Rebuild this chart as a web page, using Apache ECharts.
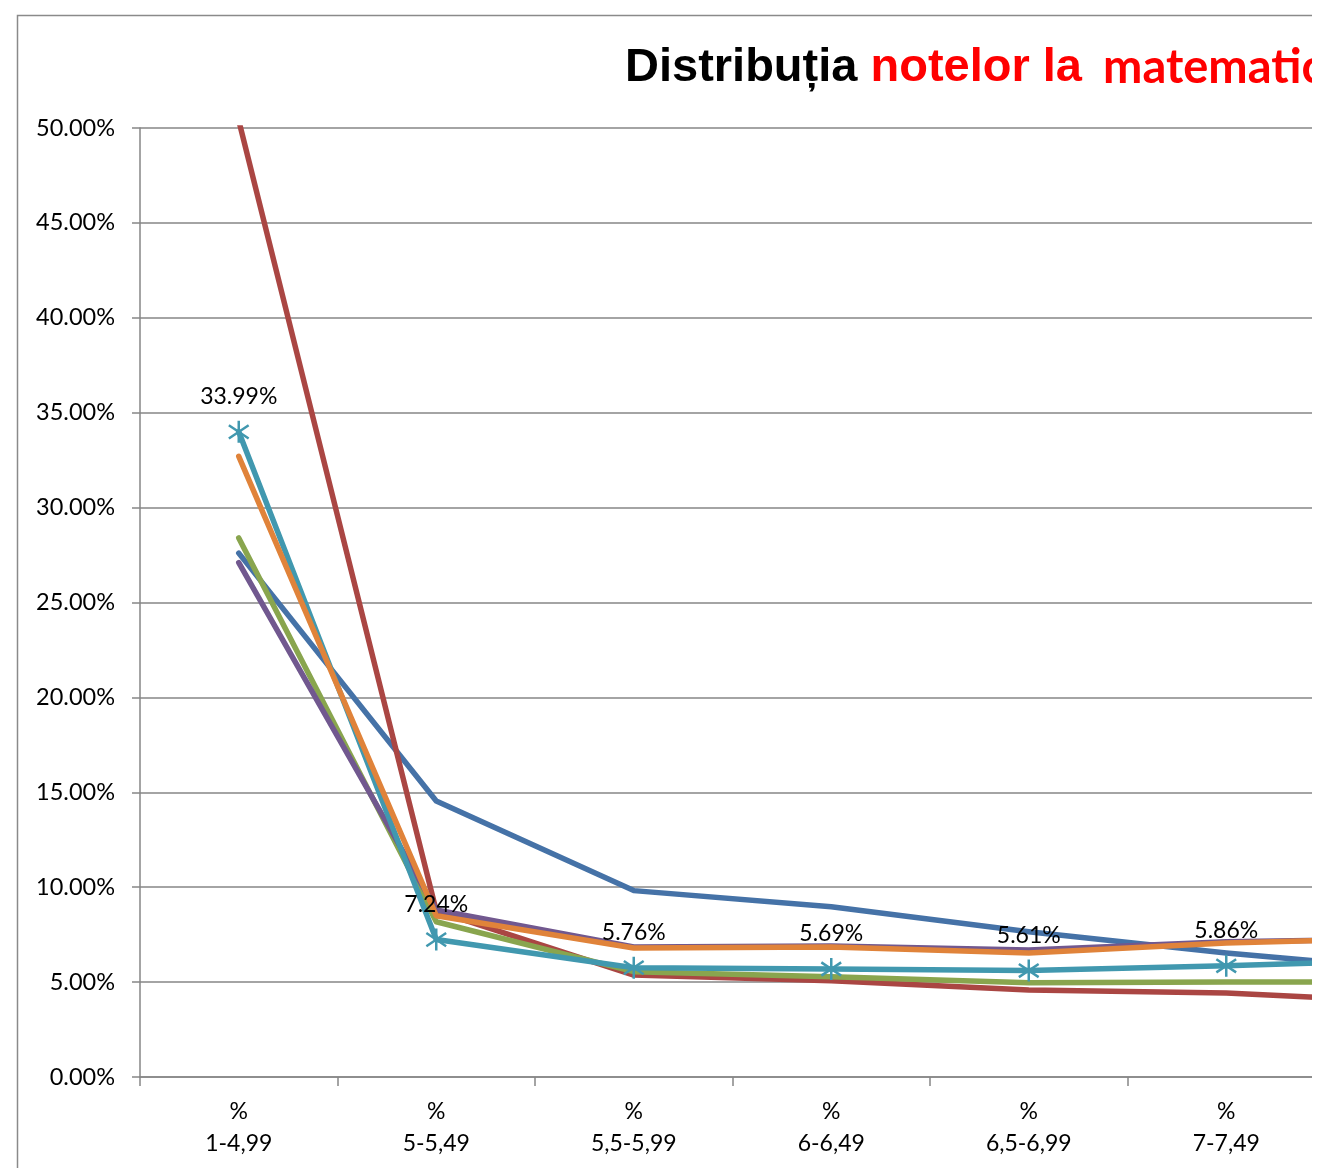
<!DOCTYPE html>
<html>
<head>
<meta charset="utf-8">
<script src="https://cdn.jsdelivr.net/npm/echarts@6/dist/echarts.min.js"></script>
<style>
  html, body { margin: 0; padding: 0; background: #fff; overflow: hidden; }
  #wrap { width: 1312px; height: 1168px; overflow: hidden; position: relative; background:#fff; }
  #chart { width: 1600px; height: 1168px; position: absolute; left: 0; top: 0; }
</style>
</head>
<body>
<div id="wrap"><div id="chart"></div></div>
<script>
// Categories (the 7th lies beyond the visible crop)
const categories = ['%\n1-4,99', '%\n5-5,49', '%\n5,5-5,99', '%\n6-6,49', '%\n6,5-6,99', '%\n7-7,49', '%\n7,5-7,99'];

// Series values (percent)
const blueValues   = [27.6, 14.54, 9.82, 8.97, 7.65, 6.53, 5.61];
const redValues    = [50.4, 8.75, 5.37, 5.07, 4.58, 4.43, 3.92];
const greenValues  = [28.4, 8.18, 5.55, 5.28, 4.97, 5.0, 5.0];
const purpleValues = [27.1, 8.8, 6.85, 6.9, 6.69, 7.13, 7.29];
const cyanValues   = [33.99, 7.24, 5.76, 5.69, 5.61, 5.86, 6.18];
const orangeValues = [32.7, 8.5, 6.8, 6.85, 6.53, 7.06, 7.34];

const seriesNames = ['Seria 1', 'Seria 2', 'Seria 3', 'Seria 4', 'Seria 5', 'Seria 6'];
const yTicks = { min: 0, max: 50, interval: 5 };

const colors = ['#4572A7', '#AA4643', '#89A54E', '#71588F', '#4198AF', '#E0833A'];
const FONT = 'Lato, "Open Sans", sans-serif';

function lineSeries(name, data, color, extra) {
  return Object.assign({
    name: name,
    type: 'line',
    data: data,
    showSymbol: false,
    symbol: 'none',
    lineStyle: { color: color, width: 5.5, join: 'round', cap: 'round' },
    itemStyle: { color: color },
    emphasis: { disabled: true },
    silent: true
  }, extra || {});
}

const chart = echarts.init(document.getElementById('chart'), null, { renderer: 'canvas' });
chart.setOption({
  animation: false,
  backgroundColor: '#fff',
  title: {
    left: 625,
    top: 39,
    padding: 0,
    text: '{a|Distribuția }{b|notelor la }{c|matematică}',
    textStyle: {
      rich: {
        a: { fontFamily: '"Liberation Sans", Arial, sans-serif', fontWeight: 'bold', fontSize: 47, color: '#000', lineHeight: 58 },
        b: { fontFamily: '"Liberation Sans", Arial, sans-serif', fontWeight: 'bold', fontSize: 47, color: '#FF0000', lineHeight: 58 },
        c: { fontFamily: 'Lato, sans-serif', fontWeight: 'bold', fontSize: 47, color: '#FF0000', lineHeight: 58, padding: [0, 0, 0, 8] }
      }
    }
  },
  graphic: [{
    type: 'rect',
    silent: true,
    z: -1,
    shape: { x: 17.5, y: 15.5, width: 1560, height: 1300 },
    style: { fill: 'none', stroke: '#8a8a8a', lineWidth: 1.5 }
  }],
  grid: { left: 140, top: 128, right: 77.5, bottom: 91, containLabel: false },
  xAxis: {
    type: 'category',
    data: categories,
    boundaryGap: true,
    axisLine: { show: true, lineStyle: { color: '#868686', width: 1.5 } },
    axisTick: { show: true, alignWithLabel: false, length: 9, lineStyle: { color: '#868686', width: 1.5 } },
    axisLabel: { color: '#000', fontFamily: FONT, fontSize: 23, lineHeight: 32, margin: 19, interval: 0 },
    splitLine: { show: false }
  },
  yAxis: {
    type: 'value',
    min: yTicks.min, max: yTicks.max, interval: yTicks.interval,
    axisLine: { show: true, lineStyle: { color: '#868686', width: 1.5 } },
    axisTick: { show: true, length: 8, lineStyle: { color: '#868686', width: 1.5 } },
    axisLabel: { color: '#000', fontFamily: FONT, fontSize: 23.5, margin: 25, formatter: v => v.toFixed(2) + '%' },
    splitLine: { show: true, lineStyle: { color: '#868686', width: 1.5 } }
  },
  series: [
    lineSeries(seriesNames[0], blueValues, colors[0]),
    lineSeries(seriesNames[1], redValues, colors[1]),
    lineSeries(seriesNames[2], greenValues, colors[2]),
    lineSeries(seriesNames[3], purpleValues, colors[3]),
    lineSeries(seriesNames[4], cyanValues, colors[4], {
      showSymbol: true,
      symbol: 'path://M10,0L10,20M1,4L19,16M1,16L19,4',
      symbolSize: 22,
      symbolKeepAspect: true,
      itemStyle: { color: 'none', borderColor: colors[4], borderWidth: 2.5 },
      label: {
        show: true, position: 'top', distance: 10,
        color: '#000', fontFamily: FONT, fontSize: 23,
        formatter: p => p.value.toFixed(2) + '%'
      },
      labelLayout: { hideOverlap: false },
      z: 3
    }),
    lineSeries(seriesNames[5], orangeValues, colors[5])
  ]
});
</script>
</body>
</html>
